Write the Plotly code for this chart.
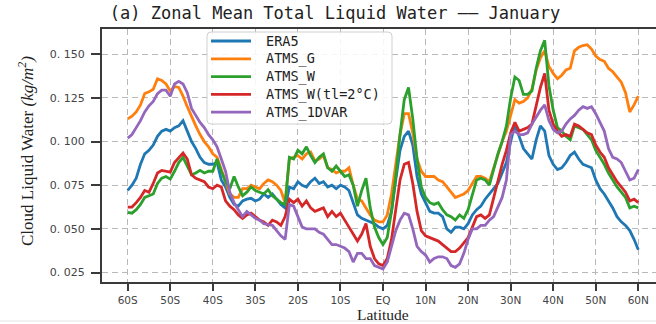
import plotly.graph_objects as go

# Latitude grid, 1-degree steps from 60S to 60N
lat = list(range(-60, 61))

era5 = [
    0.072, 0.075, 0.079, 0.087, 0.093, 0.095, 0.098, 0.103, 0.106, 0.107,
    0.106, 0.108, 0.109, 0.112, 0.106, 0.100, 0.096, 0.091, 0.088, 0.087,
    0.087, 0.088, 0.078, 0.074, 0.068, 0.064, 0.063, 0.066, 0.067, 0.0675,
    0.066, 0.067, 0.070, 0.068, 0.070, 0.067, 0.064, 0.062, 0.074, 0.073,
    0.077, 0.075, 0.074, 0.077, 0.079, 0.076, 0.077, 0.074, 0.075, 0.073,
    0.075, 0.074, 0.072, 0.065, 0.058, 0.056, 0.055, 0.054, 0.053, 0.051,
    0.050,
    0.052, 0.060, 0.078, 0.095, 0.103, 0.106, 0.098, 0.080, 0.070, 0.065,
    0.060, 0.059, 0.059, 0.057, 0.050, 0.048, 0.051, 0.051, 0.050, 0.053,
    0.058, 0.061, 0.063, 0.067, 0.070, 0.073, 0.076, 0.082, 0.088, 0.100,
    0.110, 0.103, 0.096, 0.093, 0.090, 0.101, 0.109, 0.106, 0.092, 0.087,
    0.084, 0.085, 0.088, 0.092, 0.094, 0.090, 0.087, 0.086, 0.085, 0.078,
    0.073, 0.070, 0.066, 0.062, 0.057, 0.054, 0.052, 0.049, 0.044, 0.038,
]

atms_g = [
    0.113, 0.1145, 0.117, 0.121, 0.1275, 0.1285, 0.130, 0.136, 0.135, 0.133,
    0.129, 0.1315, 0.131, 0.126, 0.120, 0.114, 0.109, 0.104, 0.100, 0.097,
    0.093, 0.091, 0.084, 0.077, 0.070, 0.068, 0.068, 0.073, 0.073, 0.075,
    0.074, 0.073, 0.076, 0.078, 0.077, 0.075, 0.072, 0.065, 0.090, 0.091,
    0.092, 0.090, 0.093, 0.094, 0.089, 0.090, 0.092, 0.085, 0.084, 0.082,
    0.083, 0.083, 0.085, 0.075, 0.067, 0.066, 0.062, 0.058, 0.055, 0.054,
    0.054,
    0.058, 0.070, 0.087, 0.104, 0.116, 0.116, 0.105, 0.090, 0.083, 0.080,
    0.080, 0.080, 0.078, 0.077, 0.074, 0.071, 0.068, 0.069, 0.070, 0.072,
    0.076, 0.080, 0.080, 0.079, 0.077, 0.085, 0.092, 0.100, 0.106, 0.115,
    0.124, 0.122, 0.123, 0.125, 0.130, 0.141, 0.148, 0.152, 0.143, 0.139,
    0.136, 0.138, 0.141, 0.142, 0.152, 0.154, 0.155, 0.1555, 0.153, 0.149,
    0.147, 0.146, 0.142, 0.140, 0.137, 0.134, 0.128, 0.117, 0.121, 0.126,
]

atms_w = [
    0.0595, 0.059, 0.061, 0.064, 0.068, 0.069, 0.070, 0.076, 0.079, 0.080,
    0.0785, 0.083, 0.088, 0.091, 0.086, 0.081, 0.082, 0.0835, 0.082, 0.083,
    0.083, 0.090, 0.083, 0.077, 0.073, 0.080, 0.074, 0.069, 0.071, 0.074,
    0.072, 0.071, 0.070, 0.0725, 0.069, 0.067, 0.065, 0.064, 0.091, 0.090,
    0.095, 0.093, 0.097, 0.092, 0.088, 0.091, 0.093, 0.085, 0.083, 0.086,
    0.083, 0.080, 0.081, 0.075, 0.063, 0.072, 0.079, 0.062, 0.051, 0.045,
    0.041,
    0.045, 0.060, 0.080, 0.104, 0.124, 0.131, 0.113, 0.090, 0.074, 0.068,
    0.065, 0.064, 0.065, 0.061, 0.058, 0.057, 0.055, 0.058, 0.056, 0.061,
    0.070, 0.078, 0.079, 0.078, 0.075, 0.084, 0.093, 0.100, 0.109, 0.125,
    0.137, 0.135, 0.127, 0.127, 0.129, 0.142, 0.152, 0.158, 0.132, 0.118,
    0.108, 0.106, 0.103, 0.101, 0.109, 0.108, 0.107, 0.104, 0.101, 0.095,
    0.091, 0.087, 0.082, 0.078, 0.074, 0.071, 0.068, 0.062, 0.063, 0.062,
]

atms_w_tl2 = [
    0.0625, 0.0625, 0.065, 0.068, 0.072, 0.071, 0.076, 0.082, 0.0835, 0.083,
    0.0825, 0.088, 0.091, 0.0935, 0.090, 0.081, 0.079, 0.078, 0.077, 0.074,
    0.073, 0.075, 0.074, 0.066, 0.063, 0.061, 0.058, 0.056, 0.058, 0.059,
    0.057, 0.055, 0.054, 0.052, 0.055, 0.054, 0.052, 0.057, 0.067, 0.065,
    0.067, 0.063, 0.066, 0.062, 0.060, 0.061, 0.062, 0.057, 0.060, 0.057,
    0.059, 0.055, 0.051, 0.047, 0.043, 0.047, 0.053, 0.040, 0.033, 0.030,
    0.029,
    0.033, 0.044, 0.061, 0.078, 0.087, 0.088, 0.076, 0.060, 0.049, 0.046,
    0.045, 0.044, 0.043, 0.041, 0.039, 0.037, 0.037, 0.039, 0.042, 0.045,
    0.051, 0.057, 0.058, 0.056, 0.058, 0.068, 0.077, 0.087, 0.095, 0.105,
    0.111, 0.106, 0.107, 0.108, 0.110, 0.120, 0.131, 0.139, 0.118, 0.110,
    0.106, 0.103, 0.104, 0.103, 0.110, 0.109, 0.107, 0.105, 0.104, 0.098,
    0.094, 0.091, 0.085, 0.081, 0.077, 0.074, 0.071, 0.066, 0.067, 0.065,
]

atms_1dvar = [
    0.102, 0.104, 0.108, 0.112, 0.117, 0.1205, 0.123, 0.1275, 0.1295, 0.1295,
    0.126, 0.133, 0.1345, 0.133, 0.128, 0.119, 0.115, 0.111, 0.108, 0.104,
    0.101, 0.097, 0.090, 0.083, 0.071, 0.065, 0.061, 0.057, 0.060, 0.058,
    0.056, 0.055, 0.053, 0.0525, 0.052, 0.049, 0.046, 0.044, 0.064, 0.063,
    0.057, 0.051, 0.050, 0.050, 0.050, 0.048, 0.047, 0.044, 0.041, 0.041,
    0.040, 0.039, 0.037, 0.031, 0.036, 0.036, 0.033, 0.033, 0.029, 0.028,
    0.027,
    0.031, 0.040, 0.049, 0.055, 0.059, 0.058, 0.050, 0.040, 0.037, 0.035,
    0.031, 0.033, 0.034, 0.034, 0.033, 0.029, 0.028, 0.030, 0.036, 0.044,
    0.050, 0.050, 0.052, 0.052, 0.055, 0.057, 0.063, 0.068, 0.078, 0.104,
    0.106, 0.104, 0.104, 0.105, 0.110, 0.114, 0.118, 0.121, 0.112, 0.107,
    0.105, 0.106, 0.110, 0.113, 0.115, 0.118, 0.120, 0.119, 0.120, 0.116,
    0.111, 0.106, 0.096, 0.091, 0.090, 0.088, 0.083, 0.078, 0.079, 0.084,
]

series_names = ["ERA5", "ATMS_G", "ATMS_W", "ATMS_W(tl=2°C)", "ATMS_1DVAR"]
series_values = [era5, atms_g, atms_w, atms_w_tl2, atms_1dvar]
series_colors = ["#1f77b4", "#ff7f0e", "#2ca02c", "#d62728", "#9467bd"]

x_tick_vals = [-60, -50, -40, -30, -20, -10, 0, 10, 20, 30, 40, 50, 60]
x_tick_text = ["60S", "50S", "40S", "30S", "20S", "10S", "EQ",
               "10N", "20N", "30N", "40N", "50N", "60N"]
y_tick_vals = [0.025, 0.050, 0.075, 0.100, 0.125, 0.150]
y_tick_text = ["0. 025", "0. 050", "0. 075", "0. 100", "0. 125", "0. 150"]

# Figure geometry in pixels (plot area spans x 102..656, y 29..282)
W, H = 656, 324
ML, MT, MB = 102, 29, 42
PW, PH = W - ML, H - MT - MB


def px(x):
    return (x - ML) / PW


def py(y):
    return (H - MB - y) / PH


fig = go.Figure()
for name, vals, col in zip(series_names, series_values, series_colors):
    fig.add_trace(go.Scatter(
        x=lat, y=vals, name=name, mode="lines",
        line=dict(color=col, width=2.8),
        showlegend=False,
    ))

axis_color = "#3a3a3a"
grid_color = "#b8b8b8"

# Legend panel: rounded box with a swatch line and label per series
box_x0, box_x1, box_y0, box_y1, rad = 207, 392, 32, 124, 4
box_path = (
    f"M {px(box_x0 + rad)},{py(box_y0)} L {px(box_x1 - rad)},{py(box_y0)} "
    f"Q {px(box_x1)},{py(box_y0)} {px(box_x1)},{py(box_y0 + rad)} "
    f"L {px(box_x1)},{py(box_y1 - rad)} "
    f"Q {px(box_x1)},{py(box_y1)} {px(box_x1 - rad)},{py(box_y1)} "
    f"L {px(box_x0 + rad)},{py(box_y1)} "
    f"Q {px(box_x0)},{py(box_y1)} {px(box_x0)},{py(box_y1 - rad)} "
    f"L {px(box_x0)},{py(box_y0 + rad)} "
    f"Q {px(box_x0)},{py(box_y0)} {px(box_x0 + rad)},{py(box_y0)} Z"
)
shapes = [
    dict(type="path", xref="paper", yref="paper", path=box_path, layer="above",
         fillcolor="rgba(255,255,255,0.85)", line=dict(color="#cfcfcf", width=1)),
]
annotations = []
for i, (name, col) in enumerate(zip(series_names, series_colors)):
    yy = 41 + i * 17.8
    shapes.append(dict(type="line", xref="paper", yref="paper", layer="above",
                       x0=px(211), x1=px(251), y0=py(yy), y1=py(yy),
                       line=dict(color=col, width=2.8)))
    annotations.append(dict(
        text=name, xref="paper", yref="paper", x=px(264), y=py(yy),
        xanchor="left", yanchor="middle", showarrow=False,
        font=dict(family="DejaVu Sans Mono", size=13.5, color="#222222"),
    ))

# thin rule along the foot of the page
shapes.append(dict(type="line", xref="paper", yref="paper",
                   x0=px(0), x1=1, y0=py(321), y1=py(321),
                   line=dict(color="#e4e4e4", width=1)))

annotations += [
    dict(
        text="Latitude", xref="paper", yref="paper",
        x=px(383), y=py(314.3), borderpad=0,
        xanchor="center", yanchor="middle", showarrow=False,
        font=dict(family="Liberation Serif", size=15.5, color="#222222"),
    ),
    dict(
        text="Cloud Liquid Water <i>(kg/m<sup>2</sup>)</i>",
        xref="paper", yref="paper",
        x=px(26), y=py(151), textangle=-90,
        xanchor="center", yanchor="middle", showarrow=False,
        font=dict(family="Liberation Serif", size=17, color="#222222"),
    ),
]

fig.update_layout(
    width=W, height=H,
    margin=dict(l=ML, r=0, t=MT, b=MB),
    paper_bgcolor="white", plot_bgcolor="white",
    showlegend=False,
    title=dict(
        text="(a) Zonal Mean Total Liquid Water —— January",
        x=335 / W, xref="container", xanchor="center",
        y=1 - 13 / H, yref="container", yanchor="middle",
        font=dict(family="DejaVu Sans Mono", size=17, color="#222222"),
    ),
    xaxis=dict(
        range=[-66.04, 64.16],
        tickmode="array", tickvals=x_tick_vals, ticktext=x_tick_text,
        showgrid=True, gridcolor=grid_color, griddash="6px,4px", gridwidth=1.3,
        showline=True, linecolor=axis_color, linewidth=2, mirror=True,
        ticks="outside", ticklen=7, tickwidth=1.5, tickcolor=axis_color,
        tickfont=dict(family="DejaVu Sans", size=10.5, color="#444444"),
        zeroline=False,
    ),
    yaxis=dict(
        range=[0.01956, 0.16449],
        tickmode="array", tickvals=y_tick_vals, ticktext=y_tick_text,
        showgrid=True, gridcolor=grid_color, griddash="6px,4px", gridwidth=1.3,
        showline=True, linecolor=axis_color, linewidth=2,
        ticks="outside", ticklen=9, tickwidth=1.5, tickcolor=axis_color,
        tickfont=dict(family="DejaVu Sans", size=11, color="#444444"),
        ticklabelstandoff=4,
        zeroline=False,
    ),
    shapes=shapes,
    annotations=annotations,
)

fig.write_html("out.html")
